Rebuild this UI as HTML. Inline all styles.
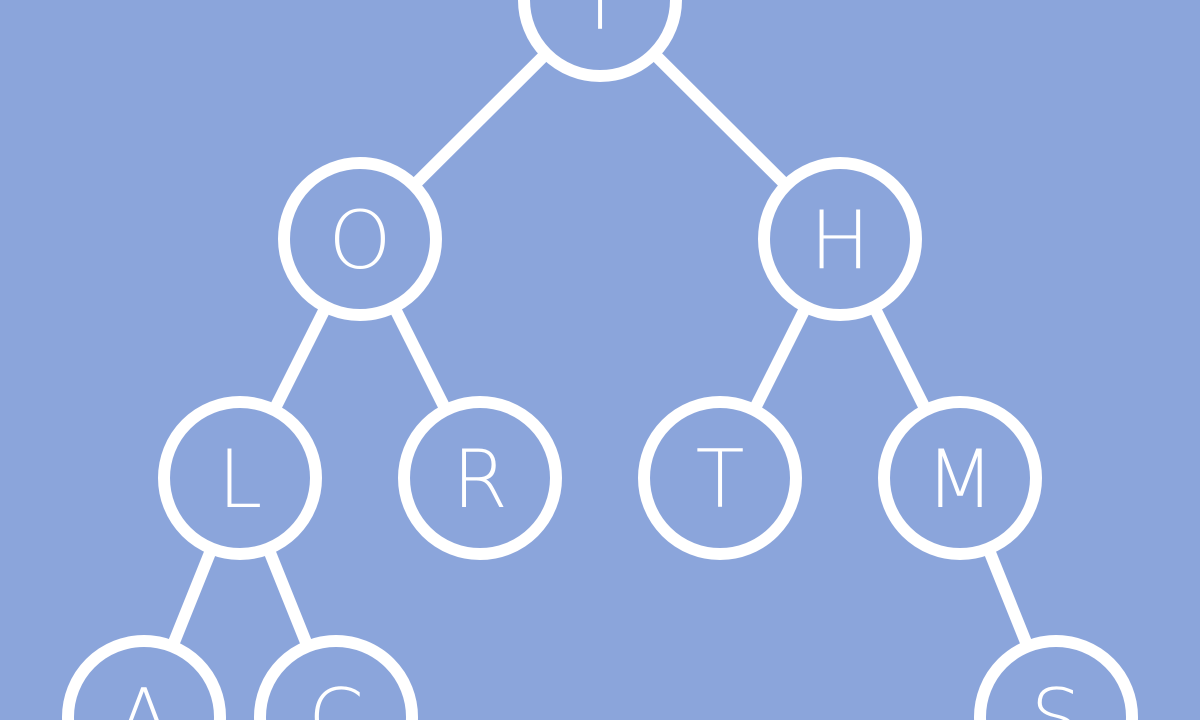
<!DOCTYPE html>
<html><head><meta charset="utf-8"><style>
html,body{margin:0;padding:0;width:1200px;height:720px;overflow:hidden;background:#8ba5db;}
svg{display:block}
</style></head><body>
<svg id="tree" width="1200" height="720" viewBox="0 0 1200 720"></svg>
<script>
const labels=["T","O","H","L","R","T","M","A","C","S"];
const parents=[-1,0,0,1,1,2,2,3,3,6];
const depth=[0,1,1,2,2,2,2,3,3,3];
const slot=[5,3,7,2,4,6,8,1.2,2.8,8.8];
const svg=document.getElementById('tree');
const NS='http://www.w3.org/2000/svg';
const px=s=>s*120;
const py=d=>d*239;
const R=76;
for(let i=0;i<labels.length;i++){
  if(parents[i]<0)continue;
  const p=parents[i];
  const l=document.createElementNS(NS,'line');
  
  
  l.setAttribute('x1',px(slot[p]));l.setAttribute('y1',py(depth[p]));
  l.setAttribute('x2',px(slot[i]));l.setAttribute('y2',py(depth[i]));
  l.setAttribute('stroke','#fff');l.setAttribute('stroke-width','12');
  svg.appendChild(l);
}
for(let i=0;i<labels.length;i++){
  const g=document.createElementNS(NS,'g');
  
  
  const c=document.createElementNS(NS,'circle');
  c.setAttribute('cx',px(slot[i]));c.setAttribute('cy',py(depth[i]));c.setAttribute('r',R);
  c.setAttribute('fill','#8ba5db');c.setAttribute('stroke','#fff');c.setAttribute('stroke-width','12');
  g.appendChild(c);
  const t=document.createElementNS(NS,'text');
  t.setAttribute('x',px(slot[i]));t.setAttribute('y',py(depth[i])+29);
  t.setAttribute('text-anchor','middle');t.setAttribute('fill','#fff');
  t.setAttribute('font-family','"DejaVu Sans","Liberation Sans",sans-serif');
  t.setAttribute('font-weight','200');
  t.setAttribute('font-size','80');
  t.textContent=labels[i];
  g.appendChild(t);
  svg.appendChild(g);
}
</script>
</body></html>
